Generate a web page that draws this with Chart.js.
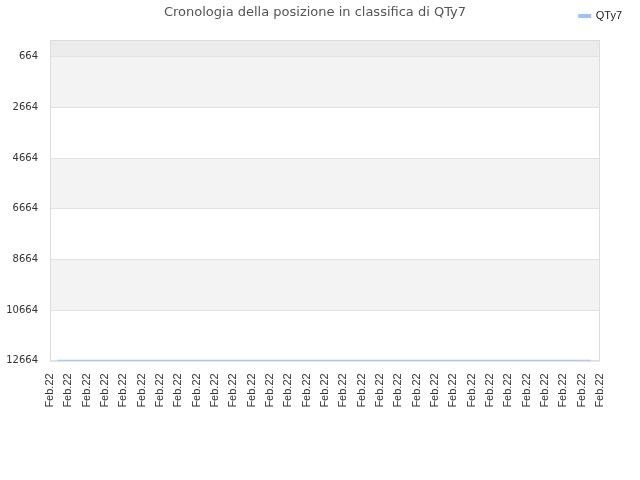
<!DOCTYPE html>
<html>
<head>
<meta charset="utf-8">
<script src="https://cdn.jsdelivr.net/npm/chart.js@4/dist/chart.umd.min.js"></script>
<style>
  html, body { margin: 0; padding: 0; background: #fff; }
  #wrap { width: 640px; height: 480px; }
</style>
</head>
<body>
<div id="wrap"><canvas id="rankChart"></canvas></div>
<script>
// tick labels along the bottom (one per day slot)
const xTickLabels = ['Feb.22', 'Feb.22', 'Feb.22', 'Feb.22', 'Feb.22', 'Feb.22', 'Feb.22', 'Feb.22',
    'Feb.22', 'Feb.22', 'Feb.22', 'Feb.22', 'Feb.22', 'Feb.22', 'Feb.22', 'Feb.22', 'Feb.22',
    'Feb.22', 'Feb.22', 'Feb.22', 'Feb.22', 'Feb.22', 'Feb.22', 'Feb.22', 'Feb.22', 'Feb.22',
    'Feb.22', 'Feb.22', 'Feb.22', 'Feb.22', 'Feb.22'];
const yTicks = [664, 2664, 4664, 6664, 8664, 10664, 12664];

// series: position in ranking over time
const sampleDays = [0.4, 29.5];
const ranks = [12664, 12664];

const seriesLabel = 'QTy7';
const chartTitle = 'Cronologia della posizione in classifica di QTy7';

// alternating background bands + frame around plot area
const bandsPlugin = {
    id: 'bands',
    beforeDraw(chart) {
        const { ctx, chartArea } = chart;
        const y = chart.scales.y;
        ctx.save();
        let prev = y.min;
        yTicks.forEach((t, i) => {
            const top = y.getPixelForValue(prev);
            const bottom = y.getPixelForValue(t);
            if (i === 0) ctx.fillStyle = '#ececec';
            else ctx.fillStyle = (i % 2 === 1) ? '#f3f3f3' : '#ffffff';
            ctx.fillRect(chartArea.left, top, chartArea.right - chartArea.left, bottom - top);
            prev = t;
        });
        ctx.restore();
    },
    beforeDatasetsDraw(chart) {
        const { ctx, chartArea } = chart;
        ctx.save();
        ctx.strokeStyle = '#dddddd';
        ctx.lineWidth = 1;
        ctx.strokeRect(chartArea.left + 0.5, chartArea.top + 0.5,
            chartArea.right - chartArea.left - 1, chartArea.bottom - chartArea.top);
        ctx.restore();
    }
};

new Chart(document.getElementById('rankChart'), {
    type: 'line',
    data: {
        datasets: [{
            label: seriesLabel,
            data: sampleDays.map((d, i) => ({ x: d, y: ranks[i] })),
            borderColor: '#9fc5ec',
            backgroundColor: '#9fc5ec',
            borderWidth: 2,
            pointRadius: 0,
            fill: false,
            tension: 0
        }]
    },
    options: {
        responsive: true,
        maintainAspectRatio: false,
        animation: false,
        layout: { padding: { left: 0, right: 10, top: 4, bottom: 57 } },
        plugins: {
            title: {
                display: true,
                text: chartTitle,
                color: '#555555',
                font: { family: 'DejaVu Sans', size: 13, weight: 'normal' },
                padding: { top: 1, bottom: -18 }
            },
            legend: {
                display: true,
                position: 'top',
                align: 'end',
                labels: {
                    boxWidth: 11,
                    boxHeight: 2,
                    color: '#222222',
                    font: { family: 'Liberation Sans', size: 11 },
                    padding: 8
                }
            },
            tooltip: { enabled: false }
        },
        scales: {
            x: {
                type: 'linear',
                min: 0,
                max: xTickLabels.length - 1,
                ticks: {
                    stepSize: 1,
                    autoSkip: false,
                    maxRotation: 90,
                    minRotation: 90,
                    color: '#333333',
                    font: { family: 'Liberation Sans', size: 11 },
                    padding: 14,
                    callback: (v, i) => xTickLabels[i]
                },
                grid: { display: false, drawTicks: false },
                border: { display: false }
            },
            xTop: {
                type: 'linear',
                position: 'top',
                ticks: { display: false },
                grid: { display: false, drawTicks: false },
                border: { display: false },
                afterFit: (scale) => { scale.height = 7; }
            },
            y: {
                reverse: true,
                min: 0,
                max: 12664,
                afterBuildTicks: (scale) => {
                    scale.ticks = yTicks.map(v => ({ value: v }));
                },
                afterFit: (scale) => { scale.width = 50; },
                ticks: {
                    color: '#333333',
                    font: { family: 'DejaVu Sans', size: 10 },
                    padding: 12,
                    callback: (v) => String(v)
                },
                grid: { color: '#e2e2e2', drawTicks: false },
                border: { display: false }
            },
            yRight: {
                position: 'right',
                ticks: { display: false },
                grid: { display: false, drawTicks: false },
                border: { display: false },
                afterFit: (scale) => { scale.width = 30; }
            }
        }
    },
    plugins: [bandsPlugin]
});
</script>
</body>
</html>
